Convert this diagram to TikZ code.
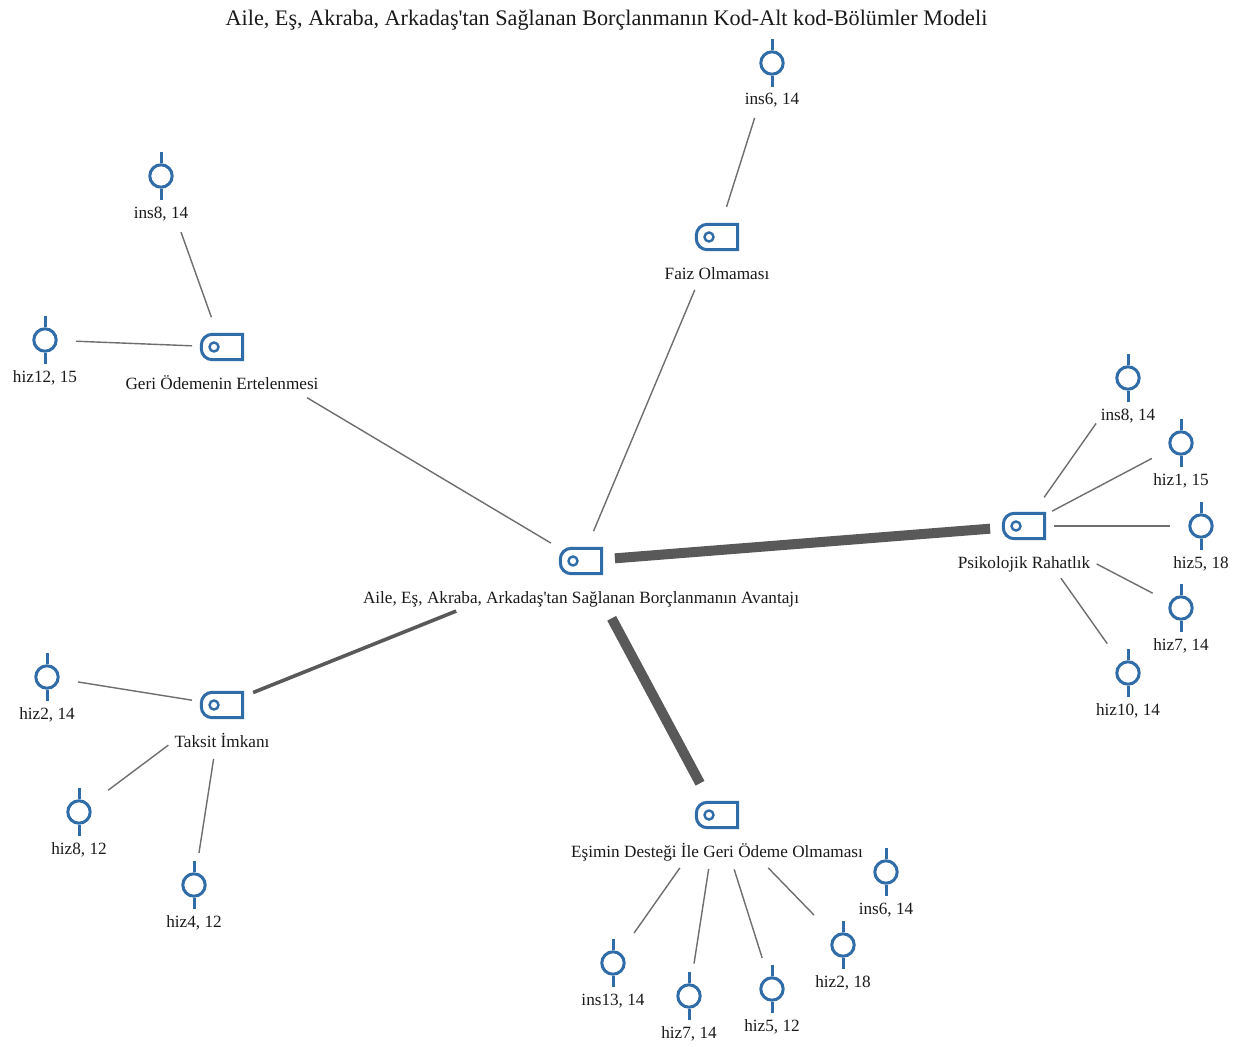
\documentclass[tikz,border=0pt]{standalone}
\usepackage{fontspec}
\setmainfont{Liberation Serif}[Ligatures=TeXOff]
\definecolor{iconblue}{HTML}{2F6CA8}
\definecolor{linkgray}{HTML}{6E6E6E}
\definecolor{heavygray}{HTML}{595959}
\definecolor{textgray}{HTML}{1A1A1A}
\tikzset{
  iconline/.style={draw=iconblue,line width=3pt},
  memoring/.style={circle,iconline,minimum size=22.4pt,inner sep=0pt},
  codeframe/.style={rectangle,minimum width=41pt,minimum height=25pt,inner sep=0pt},
  codedot/.style={circle,draw=iconblue,line width=2.4pt,minimum size=9pt,inner sep=0pt},
  lbl/.style={text=textgray,font=\fontsize{17.2}{19}\selectfont,inner sep=0pt,anchor=base},
  titlelbl/.style={text=textgray,font=\fontsize{22.2}{24}\selectfont,inner sep=0pt,anchor=base},
  conn/.style={draw=linkgray,line width=1.4pt},
  connmid/.style={draw=heavygray,line width=3.6pt},
  connheavy/.style={draw=heavygray,line width=10pt},
}
\newcommand{\memoitem}[4]{% name, x, y, label
  \node[memoring] (#1) at (#2,#3) {};
  \draw[iconline] (#1.north) -- ++(0,-11);
  \draw[iconline] (#1.south) -- ++(0,11);
  \node[lbl] (#1-l) at (#2,#3+42) {#4};
}
\newcommand{\codeitem}[4]{% name, x, y, label
  \node[codeframe] (#1) at (#2,#3) {};
  \draw[iconline] (#1.north east) {[rounded corners=11pt] -- (#1.north west) -- (#1.south west)} -- (#1.south east) -- cycle;
  \node[codedot] (#1-d) at (#2-8,#3) {};
  \node[lbl] (#1-l) at (#2,#3+42) {#4};
}
\newcommand{\linkit}[5][conn]{% style, a, b, shorten a, shorten b
  \draw[#1,shorten <=#4pt,shorten >=#5pt] (#2.center) -- (#3.center);
}
\begin{document}
\begin{tikzpicture}[x=1pt,y=-1pt]
\useasboundingbox (0,0) rectangle (1241,1046);
\fill[white] (0,0) rectangle (1241,1046);
\node[titlelbl] (title) at (606.5,26) {Aile, Eş, Akraba, Arkadaş'tan Sağlanan Borçlanmanın Kod-Alt kod-Bölümler Modeli};

\codeitem{root}{581}{561}{Aile, Eş, Akraba, Arkadaş'tan Sağlanan Borçlanmanın Avantajı}
\codeitem{faiz}{717}{237}{Faiz Olmaması}
\codeitem{geri}{222}{347}{Geri Ödemenin Ertelenmesi}
\codeitem{psi}{1024}{526}{Psikolojik Rahatlık}
\codeitem{taksit}{222}{705}{Taksit İmkanı}
\codeitem{esim}{717}{815}{Eşimin Desteği İle Geri Ödeme Olmaması}

\memoitem{insA}{772}{63}{ins6, 14}
\memoitem{insB}{161}{176}{ins8, 14}
\memoitem{hizA}{45}{340}{hiz12, 15}
\memoitem{insC}{1128}{378}{ins8, 14}
\memoitem{hizB}{1181}{443}{hiz1, 15}
\memoitem{hizC}{1201}{526}{hiz5, 18}
\memoitem{hizD}{1181}{608}{hiz7, 14}
\memoitem{hizE}{1128}{673}{hiz10, 14}
\memoitem{hizF}{47}{677}{hiz2, 14}
\memoitem{hizG}{79}{812}{hiz8, 12}
\memoitem{hizH}{194}{885}{hiz4, 12}
\memoitem{insD}{886}{872}{ins6, 14}
\memoitem{hizI}{843}{945}{hiz2, 18}
\memoitem{hizJ}{772}{989}{hiz5, 12}
\memoitem{hizK}{689}{996}{hiz7, 14}
\memoitem{insE}{613}{963}{ins13, 14}

\linkit{faiz}{insA}{31.6}{57.6}
\linkit{root}{faiz}{32.3}{57.4}
\linkit{geri}{insB}{31.6}{59.5}
\linkit{geri}{hizA}{30}{31}
\linkit{root}{geri}{35}{99}
\linkit[connheavy]{root}{psi}{34}{34}
\linkit[connmid]{root}{taksit}{134.5}{33.6}
\linkit[connheavy]{root}{esim}{65}{36}
\linkit{taksit}{hizF}{30.4}{31.4}
\linkit{taksit}{hizG}{67}{36.4}
\linkit{taksit}{hizH}{54.5}{32.4}
\linkit{esim}{insE}{64.6}{36.6}
\linkit{esim}{hizK}{54.6}{32.8}
\linkit{esim}{hizJ}{57}{32.6}
\linkit{esim}{hizI}{73.6}{41.7}
\linkit{psi}{insC}{35}{55.5}
\linkit{psi}{hizB}{31.8}{33}
\linkit{psi}{hizC}{30}{31}
\linkit{psi}{hizD}{82}{32}
\linkit{psi}{hizE}{64}{36}
\end{tikzpicture}
\end{document}
